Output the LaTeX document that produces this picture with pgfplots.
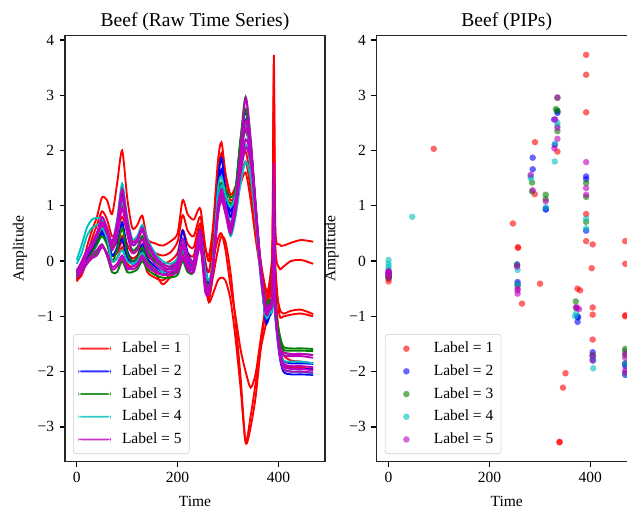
\documentclass[border=0pt]{standalone}
\usepackage{fontspec}
\setmainfont{Liberation Serif}
\usepackage{pgfplots}
\usepackage{pgfplotstable}
\pgfplotsset{compat=1.18}

\definecolor{mred}{rgb}{1,0,0}
\definecolor{mblue}{rgb}{0,0,1}
\definecolor{mgreen}{rgb}{0,0.5,0}
\definecolor{mcyan}{rgb}{0,0.75,0.75}
\definecolor{mmag}{rgb}{0.75,0,0.75}

% raw series, class 1 (red)
\pgfplotstableread{
t a b c d e f
0 -0.37 -0.30 -0.32 -0.35 -0.33 -0.28
10 -0.15 -0.15 -0.20 -0.25 -0.20 -0.15
20 0.25 0.10 0.05 0.00 0.05 0.10
30 0.55 0.40 0.30 0.20 0.25 0.30
40 0.80 0.65 0.50 0.40 0.40 0.50
50 1.15 0.90 0.70 0.60 0.55 0.65
60 1.10 0.75 0.55 0.40 0.35 0.45
70 0.85 0.45 0.25 0.10 0.00 0.10
80 1.40 0.55 0.35 0.15 0.05 0.20
90 2.00 0.80 0.60 0.35 0.25 0.45
100 1.15 0.55 0.30 0.10 -0.05 0.15
110 0.60 0.35 0.15 0.00 -0.10 0.05
120 0.65 0.40 0.20 0.05 -0.05 0.10
130 0.82 0.60 0.40 0.25 0.10 0.30
140 0.40 0.25 0.10 -0.05 -0.20 0.00
155 0.32 0.15 0.00 -0.15 -0.30 -0.20
170 0.28 0.10 -0.05 -0.20 -0.35 -0.42
185 0.35 0.15 0.00 -0.10 -0.25 -0.30
200 0.50 0.35 0.15 0.05 -0.10 -0.15
210 1.10 0.83 0.56 0.40 0.20 0.10
220 0.85 0.55 0.30 0.15 -0.05 -0.15
232 0.75 0.45 0.25 0.10 -0.05 -0.10
245 0.95 0.80 0.68 0.60 0.45 0.30
255 0.25 0.25 0.00 -0.20 -0.40 -0.30
262 0.10 0.00 -0.20 -0.50 -0.75 -0.70
270 0.60 0.50 0.30 0.00 -0.60 -0.30
280 1.80 1.60 1.00 0.40 -0.35 0.20
287 2.15 1.95 1.30 0.50 -0.30 0.45
295 1.60 1.50 1.00 0.20 -0.35 0.35
305 1.20 1.10 0.80 -0.45 -0.70 -0.20
315 1.35 1.20 1.10 -1.00 -1.40 -1.10
325 1.70 1.50 1.40 -1.60 -2.30 -2.10
335 1.98 1.80 1.60 -2.00 -3.27 -3.28
345 1.50 1.30 1.10 -2.29 -2.80 -3.00
355 0.80 0.60 0.40 -2.03 -2.20 -2.45
365 0.00 -0.10 -0.20 -1.40 -1.50 -1.60
375 -0.50 -0.53 -0.60 -0.80 -0.90 -1.15
382 -0.45 -0.50 -0.55 -0.40 -0.50 -0.70
388 0.20 0.10 -0.10 0.10 -0.10 -0.40
391 3.73 3.37 2.69 0.85 0.36 -0.30
394 0.60 0.30 -0.20 -0.10 -0.50 -0.70
402 0.30 -0.13 -0.84 -0.97 -1.42 -1.50
410 0.28 -0.10 -0.95 -1.00 -1.70 -1.85
425 0.33 0.00 -0.90 -0.97 -1.80 -1.92
445 0.38 0.02 -0.88 -0.95 -1.82 -1.93
469 0.35 -0.05 -0.96 -1.00 -1.85 -1.95
}\redtab

% class 2 (blue)
\pgfplotstableread{
t a b c
0 -0.20 -0.25 -0.22
10 -0.05 -0.15 -0.10
20 0.15 0.05 0.05
30 0.30 0.15 0.20
40 0.50 0.30 0.35
50 0.75 0.50 0.55
60 0.55 0.35 0.40
70 0.30 0.10 0.10
80 0.60 0.25 0.20
90 1.25 0.70 0.40
100 0.70 0.20 0.05
110 0.30 0.00 -0.05
120 0.35 0.05 0.00
130 0.60 0.30 0.20
140 0.30 0.05 -0.05
155 0.05 -0.10 -0.15
170 -0.10 -0.20 -0.20
185 -0.15 -0.20 -0.25
200 0.05 -0.10 -0.10
210 0.55 0.30 0.20
220 0.15 0.00 -0.10
232 0.00 -0.10 -0.15
245 0.55 0.45 0.40
255 -0.10 -0.40 -0.45
262 -0.40 -0.50 -0.55
270 0.00 -0.05 -0.10
280 1.40 1.20 1.00
287 1.87 1.66 1.35
295 1.30 1.20 1.00
305 0.90 0.80 0.80
315 1.30 1.20 0.93
325 2.20 2.05 1.70
335 2.71 2.56 2.10
345 2.10 2.00 1.80
355 1.00 0.95 0.90
365 -0.10 -0.20 -0.20
375 -1.00 -1.10 -1.05
382 -0.95 -1.00 -1.00
388 -0.75 -0.80 -0.80
391 1.53 0.55 -0.75
394 -0.85 -0.95 -1.00
402 -1.55 -1.70 -1.65
410 -1.80 -2.00 -1.90
425 -1.85 -2.05 -1.95
445 -1.85 -2.05 -1.95
469 -1.86 -2.06 -1.96
}\bluetab

% class 3 (green)
\pgfplotstableread{
t a b c
0 -0.25 -0.30 -0.28
10 -0.10 -0.20 -0.15
20 0.10 -0.05 0.00
30 0.25 0.05 0.15
40 0.40 0.15 0.30
50 0.60 0.30 0.45
60 0.45 0.10 0.30
70 0.20 -0.20 0.00
80 0.50 -0.20 0.20
90 1.00 0.00 0.60
100 0.50 -0.20 0.15
110 0.20 -0.20 0.00
120 0.25 -0.15 0.05
130 0.45 0.00 0.25
140 0.20 -0.15 0.00
155 0.00 -0.25 -0.15
170 -0.10 -0.30 -0.20
185 -0.15 -0.30 -0.25
200 -0.05 -0.25 -0.15
210 0.30 0.00 0.15
220 0.05 -0.20 -0.10
232 0.00 -0.20 -0.10
245 0.45 0.30 0.40
255 -0.30 -0.40 -0.35
262 -0.45 -0.50 -0.45
270 0.00 -0.10 -0.05
280 1.10 0.95 1.00
287 1.42 1.26 1.30
295 1.30 1.15 1.20
305 1.15 1.05 1.00
315 1.30 1.12 1.20
325 2.20 2.00 2.20
335 2.75 2.35 2.97
345 2.10 1.95 2.20
355 1.00 0.95 1.00
365 -0.10 -0.20 -0.15
375 -0.73 -0.80 -0.85
382 -0.70 -0.75 -0.80
388 -0.55 -0.60 -0.60
391 1.41 1.16 0.71
394 -0.70 -0.75 -0.80
402 -1.30 -1.35 -1.40
410 -1.55 -1.60 -1.65
425 -1.58 -1.62 -1.68
445 -1.58 -1.62 -1.68
469 -1.59 -1.63 -1.70
}\greentab

% class 4 (cyan)
\pgfplotstableread{
t a b c
0 0.02 -0.05 -0.15
10 0.30 0.15 -0.05
20 0.60 0.45 0.15
30 0.75 0.60 0.30
40 0.78 0.65 0.45
50 0.75 0.70 0.60
60 0.60 0.55 0.40
70 0.35 0.30 0.00
80 0.75 0.55 0.05
90 1.40 1.10 0.20
100 0.80 0.60 0.00
110 0.40 0.30 -0.05
120 0.45 0.35 0.00
130 0.65 0.55 0.15
140 0.40 0.30 -0.05
155 0.15 0.05 -0.15
170 0.00 -0.05 -0.20
185 -0.05 -0.10 -0.20
200 0.05 0.00 -0.10
210 0.40 0.30 0.20
220 0.10 0.05 -0.05
232 0.00 -0.05 -0.10
245 0.50 0.45 0.40
255 -0.16 -0.43 -0.40
262 -0.35 -0.50 -0.55
270 0.00 -0.10 -0.10
280 1.30 0.90 1.00
287 1.53 1.20 1.35
295 1.20 0.90 1.00
305 0.97 0.45 0.70
315 1.20 0.80 1.00
325 1.80 1.40 1.60
335 2.45 1.80 2.10
345 1.90 1.50 1.70
355 0.90 0.70 0.80
365 -0.20 -0.30 -0.30
375 -1.00 -1.00 -1.00
382 -0.95 -0.95 -0.95
388 -0.80 -0.80 -0.80
391 0.77 0.59 -0.75
394 -0.90 -0.95 -1.00
402 -1.60 -1.60 -1.65
410 -1.94 -1.80 -1.95
425 -2.00 -1.82 -2.00
445 -2.00 -1.82 -2.00
469 -2.04 -1.85 -2.02
}\cyantab

% class 5 (magenta)
\pgfplotstableread{
t a b c d e
0 -0.20 -0.25 -0.22 -0.18 -0.30
10 -0.05 -0.15 -0.10 0.00 -0.20
20 0.15 0.00 0.10 0.20 -0.05
30 0.35 0.10 0.25 0.30 0.05
40 0.50 0.20 0.45 0.45 0.10
50 0.80 0.30 0.70 0.65 0.25
60 0.60 0.10 0.55 0.50 0.15
70 0.35 -0.15 0.30 0.20 -0.10
80 0.70 -0.10 0.60 0.45 -0.05
90 1.30 0.05 1.15 0.95 0.10
100 0.75 -0.15 0.65 0.50 -0.10
110 0.35 -0.10 0.30 0.15 -0.15
120 0.40 -0.05 0.35 0.20 -0.10
130 0.60 0.10 0.55 0.40 0.05
140 0.35 -0.05 0.30 0.15 -0.10
155 0.10 -0.15 0.05 -0.05 -0.20
170 -0.05 -0.25 -0.10 -0.15 -0.25
185 -0.10 -0.20 -0.15 -0.20 -0.25
200 0.00 -0.15 -0.05 -0.10 -0.20
210 0.40 0.10 0.30 0.25 0.05
220 0.10 -0.10 0.05 -0.05 -0.15
232 0.00 -0.15 -0.05 -0.10 -0.20
245 0.55 0.30 0.50 0.40 0.25
255 -0.35 -0.55 -0.50 -0.45 -0.55
262 -0.50 -0.60 -0.55 -0.50 -0.55
270 -0.05 -0.20 -0.10 -0.10 -0.15
280 0.90 0.80 1.00 0.90 0.85
287 1.30 1.10 1.25 1.20 1.15
295 1.00 0.85 0.95 0.90 0.90
305 0.65 0.50 0.60 0.55 0.50
315 1.10 0.95 1.05 0.90 0.90
325 2.00 1.80 1.90 1.70 1.60
335 2.95 2.55 2.40 2.20 2.05
345 2.20 2.00 2.05 1.90 1.80
355 1.00 0.90 0.95 0.90 0.85
365 -0.10 -0.20 -0.15 -0.20 -0.25
375 -0.85 -0.85 -0.80 -0.90 -0.95
382 -0.80 -0.80 -0.85 -0.85 -0.90
388 -0.60 -0.60 -0.70 -0.65 -0.70
391 1.78 1.32 1.20 -0.60 -0.65
394 -0.80 -0.80 -0.85 -0.90 -0.95
402 -1.50 -1.60 -1.55 -1.60 -1.65
410 -1.70 -1.90 -1.65 -1.85 -1.95
425 -1.72 -1.95 -1.68 -1.90 -2.00
445 -1.72 -1.95 -1.68 -1.90 -2.00
469 -1.75 -1.98 -1.70 -1.92 -2.02
}\magtab

\pgfplotsset{
  beefax/.style={
    scale only axis, width=167.7pt, height=274.9pt,
    xmin=-23.45, xmax=492.45, ymin=-3.63, ymax=4.08,
    xtick={0,200,400}, xticklabels={0,200,400},
    ytick={-3,-2,-1,0,1,2,3,4},
    yticklabels={−3,−2,−1,0,1,2,3,4},
    tick align=outside, xtick pos=left, ytick pos=left,
    major tick length=3.5pt,
    every tick/.style={black, line width=0.8pt},
    axis line style={line width=0.8pt, black!85},
    tick label style={font=\fontsize{10}{12}\selectfont},
    label style={font=\fontsize{10}{12}\selectfont},
    xlabel style={yshift=-1.5pt},
    title style={font=\fontsize{12.6}{15}\selectfont, yshift=-6.5pt},
    legend cell align=left,
    legend style={at={(0.031,0.018)}, anchor=south west, draw=black!20,
      rounded corners=2pt, fill=white, fill opacity=0.8, text opacity=1,
      font=\fontsize{10}{12}\selectfont, row sep=2.2pt,
      inner xsep=3pt, inner ysep=3pt},
  },
  lineleg/.style={legend image code/.code={%
    \path (0pt,0pt) (26pt,0pt);
    \fill[draw=none, ##1] (0pt,-0.6pt) rectangle (21pt,0.6pt);}},
  dotleg/.style={legend image code/.code={%
    \path (0pt,0pt) (26pt,0pt);
    \fill[draw=none, ##1] (10.5pt,0pt) circle[radius=2.1pt];}},
  raw/.style={line width=1.2pt, smooth, tension=0.45, color=#1, forget plot},
  pip/.style={only marks, mark=*, mark size=2.1pt, color=#1,
    mark options={draw opacity=0, fill=#1, fill opacity=0.6}, forget plot},
}

\begin{document}
\begin{tikzpicture}
\useasboundingbox (0,0) rectangle (404.4pt,328.3pt);
\clip (0,0) rectangle (404.4pt,328.3pt);

\begin{axis}[beefax, at={(41.9pt,30.5pt)}, anchor=south west,
  title={Beef (Raw Time Series)}, xlabel={Time}, ylabel={Amplitude}]
  \addplot[raw=mred] table[x=t,y=a]{\redtab};
  \addplot[raw=mred] table[x=t,y=b]{\redtab};
  \addplot[raw=mred] table[x=t,y=c]{\redtab};
  \addplot[raw=mred] table[x=t,y=d]{\redtab};
  \addplot[raw=mred] table[x=t,y=e]{\redtab};
  \addplot[raw=mred] table[x=t,y=f]{\redtab};
  \addplot[raw=mblue] table[x=t,y=a]{\bluetab};
  \addplot[raw=mblue] table[x=t,y=b]{\bluetab};
  \addplot[raw=mblue] table[x=t,y=c]{\bluetab};
  \addplot[raw=mgreen] table[x=t,y=a]{\greentab};
  \addplot[raw=mgreen] table[x=t,y=b]{\greentab};
  \addplot[raw=mgreen] table[x=t,y=c]{\greentab};
  \addplot[raw=mcyan] table[x=t,y=a]{\cyantab};
  \addplot[raw=mcyan] table[x=t,y=b]{\cyantab};
  \addplot[raw=mcyan] table[x=t,y=c]{\cyantab};
  \addplot[raw=mmag] table[x=t,y=a]{\magtab};
  \addplot[raw=mmag] table[x=t,y=b]{\magtab};
  \addplot[raw=mmag] table[x=t,y=c]{\magtab};
  \addplot[raw=mmag] table[x=t,y=d]{\magtab};
  \addplot[raw=mmag] table[x=t,y=e]{\magtab};
\end{axis}

% legend of the left panel, on a bare axis of the same size
\begin{axis}[beefax, lineleg, hide axis, at={(41.9pt,30.5pt)}, anchor=south west]
  \addlegendimage{fill=mred}
  \addlegendentry{Label = 1}
  \addlegendimage{fill=mblue}
  \addlegendentry{Label = 2}
  \addlegendimage{fill=mgreen}
  \addlegendentry{Label = 3}
  \addlegendimage{fill=mcyan}
  \addlegendentry{Label = 4}
  \addlegendimage{fill=mmag}
  \addlegendentry{Label = 5}
\end{axis}

\begin{axis}[beefax, dotleg, at={(243.0pt,30.5pt)}, anchor=south west,
  title={Beef (PIPs)}, xlabel={Time}, ylabel={Amplitude}]
  \addplot[pip=mred] coordinates {
    (0,-0.37) (0,-0.30) (0,-0.32) (0,-0.28) (89.6,2.03) (246.8,0.68)
    (256.7,0.25) (256.9,0.24) (264.7,-0.77) (290.5,2.15) (290,1.21)
    (300.5,-0.41) (335,1.98) (339,-3.28) (339.4,-3.27) (346,-2.29)
    (351,-2.03) (374.8,-0.50) (380,-0.53) (392,3.73) (392,3.37)
    (392,2.69) (392,0.85) (392,0.36) (405,0.30) (403,-0.13) (405,-0.84)
    (405,-0.97) (405,-1.42) (469.6,0.36) (469.6,-0.05) (469.6,-0.98)
    (469.6,-1.00) (469.6,-1.85)};
  \addplot[pip=mblue] coordinates {
    (0,-0.20) (0,-0.25) (0,-0.22) (255,-0.06) (256,-0.38) (256,-0.42)
    (286,1.87) (286,1.66) (312,0.93) (312,0.95) (328.4,2.56) (329.7,2.10)
    (335,2.71) (335,2.68) (374.8,-1.00) (375,-1.10) (376,-1.02)
    (392,1.53) (392,1.48) (392,0.55) (405,-1.65) (405,-1.72) (405,-1.78)
    (469.6,-1.86) (469.6,-2.06) (469.6,-1.90)};
  \addplot[pip=mgreen] coordinates {
    (0,-0.30) (0,-0.28) (0,-0.25) (255,-0.08) (256,-0.45)
    (284.6,1.42) (284.6,1.26) (311.8,1.20) (311.8,1.12) (332,2.75)
    (335,2.35) (335,2.72) (335,2.95) (371.5,-0.73) (372,-0.85)
    (392,1.41) (392,1.16) (392,0.71) (405,-1.70)
    (469.6,-1.59) (469.6,-1.63) (469.6,-1.70)};
  \addplot[pip=mcyan] coordinates {
    (0,0.02) (0,-0.05) (0,-0.15) (0,-0.10) (47,0.80) (256,-0.16) (256,-0.43)
    (282,1.53) (282,1.50) (312,0.97) (329.7,1.80) (330,2.12) (335,2.45)
    (335,2.50) (370,-1.00) (372,-0.95) (392,0.77) (392,0.59)
    (406,-1.94) (406,-1.80) (406,-1.75) (469.6,-2.04) (469.6,-1.85)
    (469.6,-2.02)};
  \addplot[pip=mmag] coordinates {
    (0,-0.22) (0,-0.20) (0,-0.25) (0,-0.18) (0,-0.30) (255,-0.10)
    (256,-0.53) (256,-0.59) (256,-0.50) (282,1.56) (286,1.28)
    (311.8,1.08) (329,2.04) (331,2.56) (335,2.96) (335,2.41) (335,2.21)
    (372,-0.83) (374,-0.85) (378,-0.87) (392,1.79) (392,1.32) (392,1.20)
    (405,-1.71) (405,-1.80) (469.6,-1.68) (469.6,-1.98) (469.6,-1.75)
    (469.6,-2.02)};
  \addlegendimage{fill=mred, fill opacity=0.6}
  \addlegendentry{Label = 1}
  \addlegendimage{fill=mblue, fill opacity=0.6}
  \addlegendentry{Label = 2}
  \addlegendimage{fill=mgreen, fill opacity=0.6}
  \addlegendentry{Label = 3}
  \addlegendimage{fill=mcyan, fill opacity=0.6}
  \addlegendentry{Label = 4}
  \addlegendimage{fill=mmag, fill opacity=0.6}
  \addlegendentry{Label = 5}
\end{axis}
\end{tikzpicture}
\end{document}
